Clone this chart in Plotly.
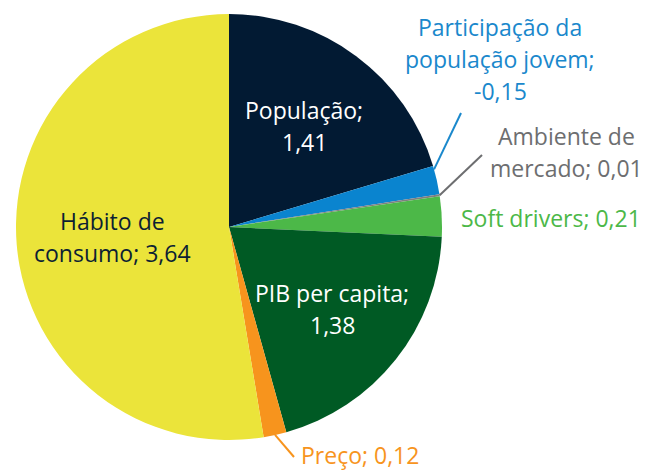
import numpy as np
import plotly.graph_objects as go

# Contributions to consumption growth
labels = ["População", "Participação da população jovem", "Ambiente de mercado",
          "Soft drivers", "PIB per capita", "Preço", "Hábito de consumo"]
values = [1.41, -0.15, 0.01, 0.21, 1.38, 0.12, 3.64]
label_lines = [["População;", "{v}"],
               ["Participação da", "população jovem;", "{v}"],
               ["Ambiente de", "mercado; {v}"],
               ["Soft drivers; {v}"],
               ["PIB per capita;", "{v}"],
               ["Preço; {v}"],
               ["Hábito de", "consumo; {v}"]]
slice_colors = ["#021a33", "#0a84cf", "#7f7f7f", "#4cb848", "#005a24", "#f7941d", "#ebe43a"]
text_colors = ["#ffffff", "#1a88cc", "#6d6e70", "#4cb848", "#ffffff", "#f7941d", "#0d1f33"]

W, H = 646, 472
CX, CY, R = 229, 227, 213          # pie centre and radius in pixels
FONT = "Open Sans"
FS = 23
LINE_GAP = 32

# inside labels: radius fraction along the slice bisector
inside = {0: 0.59, 4: 0.62, 6: 0.55}
# outside labels: pixel centre of the text block, leader anchor fraction within slice, leader tail
outside = {1: ((500, 59), 0.12, (461, 113)),
           2: ((566, 152), 0.5, (482, 155)),
           3: ((551, 218), None, None),
           5: ((360, 455), 0.5, (294, 457))}


def px(x, y):
    return x / W, 1 - y / H


def fmt(v):
    return f"{v:.2f}".replace(".", ",")


sizes = np.abs(values)
frac = sizes / sizes.sum()
starts = np.concatenate([[0], np.cumsum(frac)[:-1]]) * 360.0
spans = frac * 360.0


def polar(angle_deg, r):
    a = np.radians(angle_deg)
    return CX + r * np.sin(a), CY - r * np.cos(a)


x0, y0 = px(CX - R, CY + R)
x1, y1 = px(CX + R, CY - R)

fig = go.Figure(go.Pie(
    labels=labels, values=sizes, sort=False, direction="clockwise", rotation=0,
    marker=dict(colors=slice_colors, line=dict(width=0)),
    textinfo="none", hoverinfo="skip", showlegend=False,
    domain=dict(x=[x0, x1], y=[y0, y1]),
))


def add_block(i, cx, cy):
    lines = [s.format(v=fmt(values[i])) for s in label_lines[i]]
    n = len(lines)
    for k, line in enumerate(lines):
        ly = cy + (k - (n - 1) / 2) * LINE_GAP
        xp, yp = px(cx, ly)
        fig.add_annotation(x=xp, y=yp, xref="paper", yref="paper", text=line,
                           showarrow=False, xanchor="center", yanchor="middle",
                           borderpad=0,
                           font=dict(family=FONT, size=FS, color=text_colors[i]))


for i, rf in inside.items():
    cx, cy = polar(starts[i] + spans[i] / 2, rf * R)
    add_block(i, cx, cy)

for i, (centre, anchor, tail) in outside.items():
    add_block(i, *centre)
    if anchor is not None:
        hx, hy = polar(starts[i] + anchor * spans[i], R)
        ax0, ay0 = px(hx, hy)
        ax1, ay1 = px(*tail)
        fig.add_shape(type="line", xref="paper", yref="paper",
                      x0=ax0, y0=ay0, x1=ax1, y1=ay1,
                      line=dict(color=text_colors[i], width=2))

fig.update_layout(width=W, height=H, autosize=False,
                  margin=dict(l=0, r=0, t=0, b=0),
                  paper_bgcolor="white", plot_bgcolor="white")
fig.write_html("out.html")
